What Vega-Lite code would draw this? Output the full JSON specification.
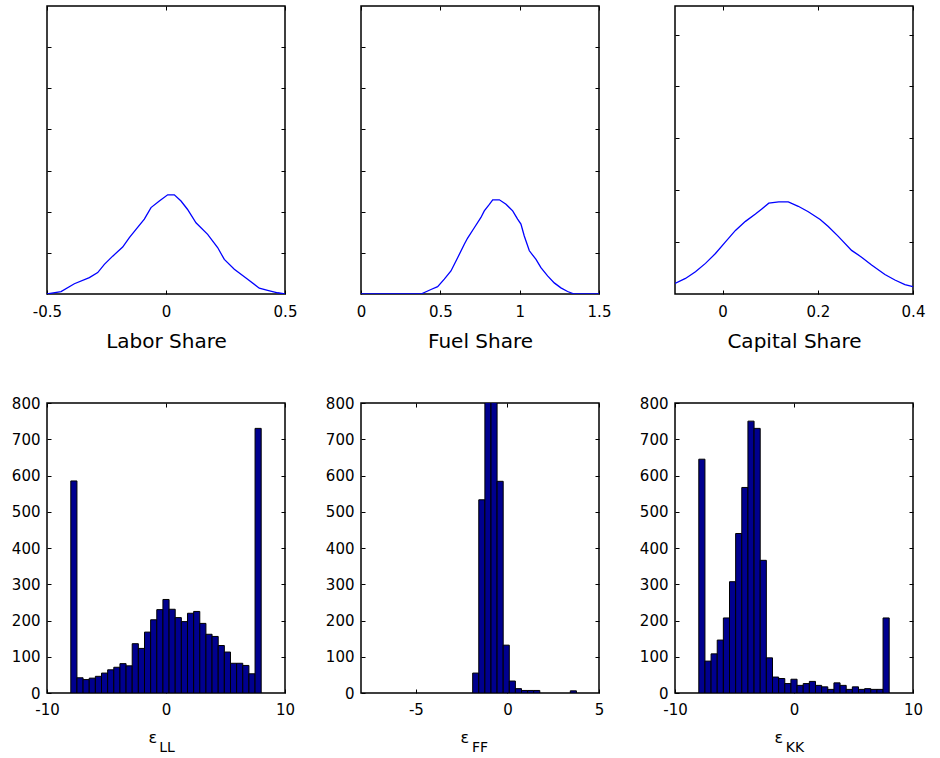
{
  "$schema": "https://vega.github.io/schema/vega-lite/v6.json",
  "background": "white",
  "padding": {"left": 10, "top": 3, "right": 5, "bottom": 5},
  "datasets": {
    "labor": [
      {"x": -0.5, "density": 0}, {"x": -0.441, "density": 0.06}, {"x": -0.385, "density": 0.25}, {"x": -0.322, "density": 0.4},
      {"x": -0.287, "density": 0.52}, {"x": -0.259, "density": 0.72}, {"x": -0.224, "density": 0.92}, {"x": -0.182, "density": 1.14},
      {"x": -0.154, "density": 1.37}, {"x": -0.126, "density": 1.57}, {"x": -0.091, "density": 1.82}, {"x": -0.063, "density": 2.1},
      {"x": -0.028, "density": 2.26}, {"x": 0.007, "density": 2.41}, {"x": 0.035, "density": 2.41}, {"x": 0.063, "density": 2.26},
      {"x": 0.09, "density": 2.06}, {"x": 0.126, "density": 1.73}, {"x": 0.175, "density": 1.45}, {"x": 0.217, "density": 1.13},
      {"x": 0.245, "density": 0.84}, {"x": 0.287, "density": 0.6}, {"x": 0.343, "density": 0.36}, {"x": 0.392, "density": 0.14},
      {"x": 0.427, "density": 0.09}, {"x": 0.469, "density": 0.03}, {"x": 0.5, "density": 0}
    ],
    "fuel": [
      {"x": 0, "density": 0}, {"x": 0.378, "density": 0}, {"x": 0.441, "density": 0.11}, {"x": 0.483, "density": 0.18},
      {"x": 0.525, "density": 0.36}, {"x": 0.567, "density": 0.56}, {"x": 0.609, "density": 0.88}, {"x": 0.651, "density": 1.21},
      {"x": 0.672, "density": 1.36}, {"x": 0.714, "density": 1.61}, {"x": 0.756, "density": 1.86}, {"x": 0.777, "density": 2.02},
      {"x": 0.809, "density": 2.18}, {"x": 0.83, "density": 2.29}, {"x": 0.872, "density": 2.29}, {"x": 0.914, "density": 2.18},
      {"x": 0.956, "density": 2.02}, {"x": 0.987, "density": 1.82}, {"x": 1.008, "density": 1.7}, {"x": 1.029, "density": 1.41},
      {"x": 1.061, "density": 1.05}, {"x": 1.103, "density": 0.84}, {"x": 1.134, "density": 0.64}, {"x": 1.176, "density": 0.44},
      {"x": 1.218, "density": 0.27}, {"x": 1.26, "density": 0.15}, {"x": 1.302, "density": 0.06}, {"x": 1.344, "density": 0},
      {"x": 1.5, "density": 0}
    ],
    "capital": [
      {"x": -0.1, "density": 0.41}, {"x": -0.078, "density": 0.6}, {"x": -0.057, "density": 0.86}, {"x": -0.036, "density": 1.18},
      {"x": -0.015, "density": 1.56}, {"x": 0.006, "density": 2.01}, {"x": 0.027, "density": 2.45}, {"x": 0.048, "density": 2.8},
      {"x": 0.069, "density": 3.08}, {"x": 0.083, "density": 3.29}, {"x": 0.097, "density": 3.5}, {"x": 0.118, "density": 3.55},
      {"x": 0.138, "density": 3.55}, {"x": 0.159, "density": 3.38}, {"x": 0.18, "density": 3.17}, {"x": 0.205, "density": 2.87},
      {"x": 0.222, "density": 2.6}, {"x": 0.243, "density": 2.22}, {"x": 0.271, "density": 1.68}, {"x": 0.292, "density": 1.42},
      {"x": 0.313, "density": 1.12}, {"x": 0.341, "density": 0.75}, {"x": 0.362, "density": 0.54}, {"x": 0.383, "density": 0.36},
      {"x": 0.4, "density": 0.28}
    ],
    "hLL": [
      {"start": -8, "end": -7.484, "count": 585}, {"start": -7.484, "end": -6.968, "count": 42}, {"start": -6.968, "end": -6.452, "count": 37},
      {"start": -6.452, "end": -5.935, "count": 41}, {"start": -5.935, "end": -5.419, "count": 46}, {"start": -5.419, "end": -4.903, "count": 55},
      {"start": -4.903, "end": -4.387, "count": 64}, {"start": -4.387, "end": -3.871, "count": 71}, {"start": -3.871, "end": -3.355, "count": 81},
      {"start": -3.355, "end": -2.839, "count": 75}, {"start": -2.839, "end": -2.323, "count": 136}, {"start": -2.323, "end": -1.806, "count": 123},
      {"start": -1.806, "end": -1.29, "count": 168}, {"start": -1.29, "end": -0.774, "count": 202}, {"start": -0.774, "end": -0.258, "count": 230},
      {"start": -0.258, "end": 0.258, "count": 258}, {"start": 0.258, "end": 0.774, "count": 231}, {"start": 0.774, "end": 1.29, "count": 208},
      {"start": 1.29, "end": 1.806, "count": 197}, {"start": 1.806, "end": 2.323, "count": 220}, {"start": 2.323, "end": 2.839, "count": 225},
      {"start": 2.839, "end": 3.355, "count": 192}, {"start": 3.355, "end": 3.871, "count": 162}, {"start": 3.871, "end": 4.387, "count": 156},
      {"start": 4.387, "end": 4.903, "count": 131}, {"start": 4.903, "end": 5.419, "count": 113}, {"start": 5.419, "end": 5.935, "count": 82},
      {"start": 5.935, "end": 6.452, "count": 82}, {"start": 6.452, "end": 6.968, "count": 76}, {"start": 6.968, "end": 7.484, "count": 53},
      {"start": 7.484, "end": 8, "count": 730}
    ],
    "hFF": [
      {"start": -1.9, "end": -1.567, "count": 55}, {"start": -1.567, "end": -1.233, "count": 533}, {"start": -1.233, "end": -0.9, "count": 1900},
      {"start": -0.9, "end": -0.567, "count": 1750}, {"start": -0.567, "end": -0.233, "count": 584}, {"start": -0.233, "end": 0.1, "count": 132},
      {"start": 0.1, "end": 0.433, "count": 33}, {"start": 0.433, "end": 0.767, "count": 12}, {"start": 0.767, "end": 1.1, "count": 7},
      {"start": 1.1, "end": 1.433, "count": 7}, {"start": 1.433, "end": 1.767, "count": 7}, {"start": 3.433, "end": 3.767, "count": 6}
    ],
    "hKK": [
      {"start": -8, "end": -7.484, "count": 645}, {"start": -7.484, "end": -6.968, "count": 88}, {"start": -6.968, "end": -6.452, "count": 108},
      {"start": -6.452, "end": -5.935, "count": 146}, {"start": -5.935, "end": -5.419, "count": 207}, {"start": -5.419, "end": -4.903, "count": 307},
      {"start": -4.903, "end": -4.387, "count": 440}, {"start": -4.387, "end": -3.871, "count": 567}, {"start": -3.871, "end": -3.355, "count": 750},
      {"start": -3.355, "end": -2.839, "count": 730}, {"start": -2.839, "end": -2.323, "count": 366}, {"start": -2.323, "end": -1.806, "count": 97},
      {"start": -1.806, "end": -1.29, "count": 44}, {"start": -1.29, "end": -0.774, "count": 40}, {"start": -0.774, "end": -0.258, "count": 26},
      {"start": -0.258, "end": 0.258, "count": 38}, {"start": 0.258, "end": 0.774, "count": 21}, {"start": 0.774, "end": 1.29, "count": 26},
      {"start": 1.29, "end": 1.806, "count": 32}, {"start": 1.806, "end": 2.323, "count": 21}, {"start": 2.323, "end": 2.839, "count": 17},
      {"start": 2.839, "end": 3.355, "count": 10}, {"start": 3.355, "end": 3.871, "count": 28}, {"start": 3.871, "end": 4.387, "count": 21},
      {"start": 4.387, "end": 4.903, "count": 10}, {"start": 4.903, "end": 5.419, "count": 17}, {"start": 5.419, "end": 5.935, "count": 10},
      {"start": 5.935, "end": 6.452, "count": 12}, {"start": 6.452, "end": 6.968, "count": 10}, {"start": 6.968, "end": 7.484, "count": 10},
      {"start": 7.484, "end": 8, "count": 207}
    ]
  },
  "columns": 3,
  "bounds": "flush",
  "spacing": {"row": 109, "column": 76},
  "concat": [
    {
      "width": 238, "height": 288,
      "data": {"name": "labor"},
      "layer": [
        {
          "mark": {"type": "line", "color": "#0000FF", "strokeWidth": 1.3, "clip": true},
          "encoding": {
            "x": {"field": "x", "type": "quantitative", "scale": {"domain": [-0.5, 0.5], "nice": false, "zero": false},
                  "axis": {"orient": "bottom", "values": [-0.5, 0, 0.5], "title": "Labor Share", "labelPadding": 14}},
            "y": {"field": "density", "type": "quantitative", "scale": {"domain": [0, 7], "nice": false},
                  "axis": {"orient": "left", "values": [1, 2, 3, 4, 5, 6], "labels": false, "title": null}}
          }
        },
        {
          "mark": {"type": "line", "strokeOpacity": 0},
          "encoding": {
            "x": {"field": "x", "type": "quantitative", "axis": {"orient": "top", "values": [-0.5, 0, 0.5], "labels": false, "title": null, "ticks": true, "tickSize": -4, "tickColor": "black"}},
            "y": {"field": "density", "type": "quantitative", "axis": {"orient": "right", "values": [1, 2, 3, 4, 5, 6], "labels": false, "title": null, "ticks": true, "tickSize": -4, "tickColor": "black"}}
          }
        }
      ],
      "resolve": {"axis": {"x": "independent", "y": "independent"}}
    },
    {
      "width": 238, "height": 288,
      "data": {"name": "fuel"},
      "layer": [
        {
          "mark": {"type": "line", "color": "#0000FF", "strokeWidth": 1.3, "clip": true},
          "encoding": {
            "x": {"field": "x", "type": "quantitative", "scale": {"domain": [0, 1.5], "nice": false, "zero": false},
                  "axis": {"orient": "bottom", "values": [0, 0.5, 1, 1.5], "title": "Fuel Share", "labelPadding": 14}},
            "y": {"field": "density", "type": "quantitative", "scale": {"domain": [0, 7], "nice": false},
                  "axis": {"orient": "left", "values": [1, 2, 3, 4, 5, 6], "labels": false, "title": null}}
          }
        },
        {
          "mark": {"type": "line", "strokeOpacity": 0},
          "encoding": {
            "x": {"field": "x", "type": "quantitative", "axis": {"orient": "top", "values": [0, 0.5, 1, 1.5], "labels": false, "title": null, "ticks": true, "tickSize": -4, "tickColor": "black"}},
            "y": {"field": "density", "type": "quantitative", "axis": {"orient": "right", "values": [1, 2, 3, 4, 5, 6], "labels": false, "title": null, "ticks": true, "tickSize": -4, "tickColor": "black"}}
          }
        }
      ],
      "resolve": {"axis": {"x": "independent", "y": "independent"}}
    },
    {
      "width": 238, "height": 288,
      "data": {"name": "capital"},
      "layer": [
        {
          "mark": {"type": "line", "color": "#0000FF", "strokeWidth": 1.3, "clip": true},
          "encoding": {
            "x": {"field": "x", "type": "quantitative", "scale": {"domain": [-0.1, 0.4], "nice": false, "zero": false},
                  "axis": {"orient": "bottom", "values": [0, 0.2, 0.4], "title": "Capital Share", "labelPadding": 14}},
            "y": {"field": "density", "type": "quantitative", "scale": {"domain": [0, 11.1], "nice": false},
                  "axis": {"orient": "left", "values": [2, 4, 6, 8, 10], "labels": false, "title": null}}
          }
        },
        {
          "mark": {"type": "line", "strokeOpacity": 0},
          "encoding": {
            "x": {"field": "x", "type": "quantitative", "axis": {"orient": "top", "values": [0, 0.2, 0.4], "labels": false, "title": null, "ticks": true, "tickSize": -4, "tickColor": "black"}},
            "y": {"field": "density", "type": "quantitative", "axis": {"orient": "right", "values": [2, 4, 6, 8, 10], "labels": false, "title": null, "ticks": true, "tickSize": -4, "tickColor": "black"}}
          }
        }
      ],
      "resolve": {"axis": {"x": "independent", "y": "independent"}}
    },
    {
      "width": 238, "height": 290,
      "data": {"name": "hLL"},
      "title": {"text": "LL", "orient": "bottom", "anchor": "middle", "dx": 1, "offset": -4, "fontSize": 14, "fontWeight": "normal", "font": "DejaVu Sans", "color": "black"},
      "layer": [
        {
          "mark": {"type": "bar", "color": "#00008F", "stroke": "black", "strokeWidth": 1, "clip": true},
          "encoding": {
            "x": {"field": "start", "type": "quantitative", "scale": {"domain": [-10, 10], "nice": false, "zero": false},
                  "axis": {"orient": "bottom", "values": [-10, 0, 10], "title": "ε", "titleAlign": "left", "titleX": 101, "titleFontSize": 16, "labelPadding": 13}},
            "x2": {"field": "end"},
            "y": {"field": "count", "type": "quantitative", "scale": {"domain": [0, 800], "nice": false},
                  "axis": {"orient": "left", "values": [0, 100, 200, 300, 400, 500, 600, 700, 800], "title": null}},
            "y2": {"datum": 0}
          }
        },
        {
          "mark": {"type": "bar", "opacity": 0},
          "encoding": {
            "x": {"field": "start", "type": "quantitative", "axis": {"orient": "top", "values": [-10, 0, 10], "labels": false, "title": null, "ticks": true, "tickSize": -4, "tickColor": "black"}},
            "x2": {"field": "end"},
            "y": {"field": "count", "type": "quantitative", "axis": {"orient": "right", "values": [100, 200, 300, 400, 500, 600, 700], "labels": false, "title": null, "ticks": true, "tickSize": -4, "tickColor": "black"}},
            "y2": {"datum": 0}
          }
        }
      ],
      "resolve": {"axis": {"x": "independent", "y": "independent"}}
    },
    {
      "width": 238, "height": 290,
      "data": {"name": "hFF"},
      "title": {"text": "FF", "orient": "bottom", "anchor": "middle", "dx": 0, "offset": -4, "fontSize": 14, "fontWeight": "normal", "font": "DejaVu Sans", "color": "black"},
      "layer": [
        {
          "mark": {"type": "bar", "color": "#00008F", "stroke": "black", "strokeWidth": 1, "clip": true},
          "encoding": {
            "x": {"field": "start", "type": "quantitative", "scale": {"domain": [-8, 5], "nice": false, "zero": false},
                  "axis": {"orient": "bottom", "values": [-5, 0, 5], "title": "ε", "titleAlign": "left", "titleX": 99, "titleFontSize": 16, "labelPadding": 13}},
            "x2": {"field": "end"},
            "y": {"field": "count", "type": "quantitative", "scale": {"domain": [0, 800], "nice": false},
                  "axis": {"orient": "left", "values": [0, 100, 200, 300, 400, 500, 600, 700, 800], "title": null}},
            "y2": {"datum": 0}
          }
        },
        {
          "mark": {"type": "bar", "opacity": 0},
          "encoding": {
            "x": {"field": "start", "type": "quantitative", "axis": {"orient": "top", "values": [-5, 0, 5], "labels": false, "title": null, "ticks": true, "tickSize": -4, "tickColor": "black"}},
            "x2": {"field": "end"},
            "y": {"field": "count", "type": "quantitative", "axis": {"orient": "right", "values": [100, 200, 300, 400, 500, 600, 700], "labels": false, "title": null, "ticks": true, "tickSize": -4, "tickColor": "black"}},
            "y2": {"datum": 0}
          }
        }
      ],
      "resolve": {"axis": {"x": "independent", "y": "independent"}}
    },
    {
      "width": 238, "height": 290,
      "data": {"name": "hKK"},
      "title": {"text": "KK", "orient": "bottom", "anchor": "middle", "dx": 1, "offset": -4, "fontSize": 14, "fontWeight": "normal", "font": "DejaVu Sans", "color": "black"},
      "layer": [
        {
          "mark": {"type": "bar", "color": "#00008F", "stroke": "black", "strokeWidth": 1, "clip": true},
          "encoding": {
            "x": {"field": "start", "type": "quantitative", "scale": {"domain": [-10, 10], "nice": false, "zero": false},
                  "axis": {"orient": "bottom", "values": [-10, 0, 10], "title": "ε", "titleAlign": "left", "titleX": 99, "titleFontSize": 16, "labelPadding": 13}},
            "x2": {"field": "end"},
            "y": {"field": "count", "type": "quantitative", "scale": {"domain": [0, 800], "nice": false},
                  "axis": {"orient": "left", "values": [0, 100, 200, 300, 400, 500, 600, 700, 800], "title": null}},
            "y2": {"datum": 0}
          }
        },
        {
          "mark": {"type": "bar", "opacity": 0},
          "encoding": {
            "x": {"field": "start", "type": "quantitative", "axis": {"orient": "top", "values": [-10, 0, 10], "labels": false, "title": null, "ticks": true, "tickSize": -4, "tickColor": "black"}},
            "x2": {"field": "end"},
            "y": {"field": "count", "type": "quantitative", "axis": {"orient": "right", "values": [100, 200, 300, 400, 500, 600, 700], "labels": false, "title": null, "ticks": true, "tickSize": -4, "tickColor": "black"}},
            "y2": {"datum": 0}
          }
        }
      ],
      "resolve": {"axis": {"x": "independent", "y": "independent"}}
    }
  ],
  "config": {
    "font": "DejaVu Sans",
    "view": {"stroke": "black", "strokeWidth": 1.5},
    "axis": {
      "grid": false, "domain": false,
      "ticks": true, "tickColor": "black", "tickSize": -4, "tickWidth": 1,
      "labelColor": "black", "labelFont": "DejaVu Sans", "labelFontSize": 15, "labelPadding": 11,
      "labelExpr": "'' + datum.value", "labelFlush": false, "labelOverlap": false,
      "titleColor": "black", "titleFont": "DejaVu Sans", "titleFontSize": 20, "titleFontWeight": "normal",
      "titlePadding": 12
    }
  }
}
